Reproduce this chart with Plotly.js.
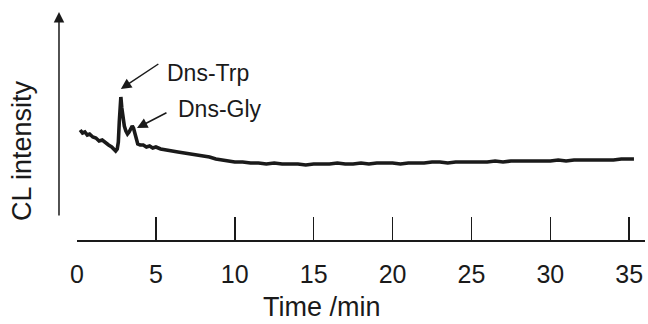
<!DOCTYPE html>
<html>
<head>
<meta charset="utf-8">
<script src="https://cdn.plot.ly/plotly-3.0.1.min.js"></script>
<style>html,body{margin:0;padding:0;background:#fff;}#chart{width:648px;height:324px;}</style>
</head>
<body>
<div id="chart"></div>
<script>
// Retention time (min) and CL intensity (arbitrary units)
const timeMin = [0.2,0.35,0.5,0.65,0.8,1.0,1.2,1.4,1.6,1.8,2.0,2.2,2.35,2.45,2.55,2.62,2.68,2.74,2.78,2.84,2.92,3.0,3.1,3.2,3.3,3.4,3.5,3.58,3.66,3.75,3.85,4.0,4.2,4.4,4.6,4.8,5.0,5.3,5.6,6.0,6.4,6.8,7.2,7.6,8.0,8.4,8.8,9.2,9.6,10.0,10.5,11.0,11.5,12.0,12.5,13.0,13.5,14.0,14.5,15.0,15.5,16.0,16.5,17.0,17.5,18.0,18.5,19.0,19.5,20.0,20.5,21.0,21.5,22.0,22.5,23.0,23.5,24.0,24.5,25.0,25.5,26.0,26.5,27.0,27.5,28.0,28.5,29.0,29.5,30.0,30.5,31.0,31.5,32.0,32.5,33.0,33.5,34.0,34.5,35.0,35.3];
const clIntensity = [110,107,108,105,106,103,102,99,100,97,95,93,90,89,91,98,118,140,143,132,122,114,109,106,108,111,114,112,106,100,96,95,95,93,94,92,93,91,90,89,88,87,86,85,84,83,81,80,79,78,78,77,77,76,77,76,76,76,75,76,76,76,77,76,76,77,76,77,77,77,76,77,77,77,78,78,77,78,78,78,78,78,79,78,79,79,79,79,79,79,80,79,80,80,80,80,80,80,81,81,81];
const xTicks = [0,5,10,15,20,25,30,35];
const xLabel = 'Time /min';
const yLabel = 'CL intensity';
const peakNames = ['Dns-Trp','Dns-Gly'];
const peakTimes = [2.78, 3.8];
const peakHeights = [151, 112];

const FONT = 'Arial, "Liberation Sans", Helvetica, sans-serif';
const INK = '#1a1a1a';

const trace = {
  x: timeMin, y: clIntensity, type: 'scatter', mode: 'lines',
  line: {color: INK, width: 3.6, shape: 'linear'},
  hoverinfo: 'skip'
};

const annotations = [
  // y-axis arrow
  {xref:'paper', yref:'paper', x:-0.0317, y:0.991, ax:-0.0317, ay:0.1, axref:'paper', ayref:'paper',
   text:'', showarrow:true, arrowhead:2, arrowsize:1.4, arrowwidth:1.5, arrowcolor:INK},
  // axis titles
  {xref:'paper', yref:'paper', x:0.431, y:-0.292, text:xLabel, showarrow:false,
   xanchor:'center', yanchor:'middle', font:{family:FONT, size:27, color:INK}},
  {xref:'paper', yref:'paper', x:-0.097, y:0.391, text:yLabel, showarrow:false, textangle:-90,
   xanchor:'center', yanchor:'middle', font:{family:FONT, size:27, color:INK}},
  // peak arrows
  {x:peakTimes[0], y:peakHeights[0], ax:39, ay:-26, text:'', showarrow:true,
   arrowhead:2, arrowsize:1.4, arrowwidth:1.5, arrowcolor:INK, standoff:0},
  {x:peakTimes[1], y:peakHeights[1], ax:31, ay:-16, text:'', showarrow:true,
   arrowhead:2, arrowsize:1.4, arrowwidth:1.5, arrowcolor:INK, standoff:0},
  // peak labels
  {x:5.6, y:167.5, text:peakNames[0], showarrow:false, xanchor:'left', yanchor:'middle',
   font:{family:FONT, size:23, color:INK}},
  {x:6.25, y:131.5, text:peakNames[1], showarrow:false, xanchor:'left', yanchor:'middle',
   font:{family:FONT, size:23, color:INK}}
];

const layout = {
  width:648, height:324,
  margin:{l:77, r:3, t:10, b:84},
  paper_bgcolor:'#fff', plot_bgcolor:'#fff',
  showlegend:false,
  xaxis:{
    range:[0,36], tickvals:xTicks, ticktext:xTicks.map(String),
    ticks:'inside', ticklen:23, tickwidth:1.5, tickcolor:INK,
    showline:true, linecolor:INK, linewidth:1.5,
    showgrid:false, zeroline:false, ticklabelstandoff:11,
    tickfont:{family:FONT, size:25, color:INK}, fixedrange:true
  },
  yaxis:{
    range:[0,230], visible:false, showgrid:false, zeroline:false, fixedrange:true
  },
  annotations: annotations
};

Plotly.newPlot('chart', [trace], layout, {staticPlot:true, displayModeBar:false});
</script>
</body>
</html>
